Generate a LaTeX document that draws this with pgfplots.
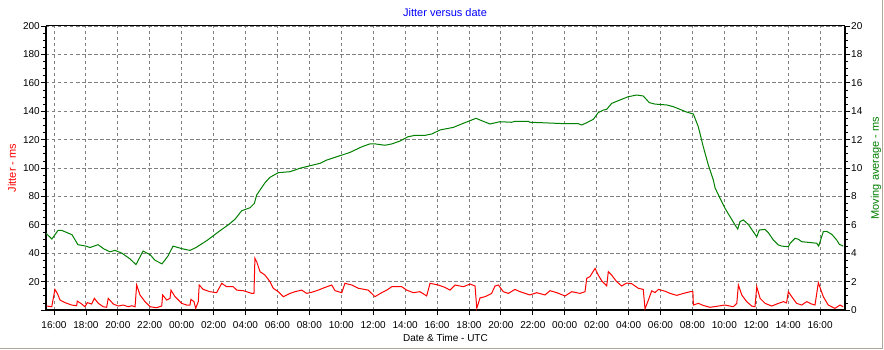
\documentclass[border=0pt]{standalone}
\usepackage{fontspec}
\setmainfont{Liberation Sans}
\usepackage{pgfplots}
\pgfplotsset{compat=1.18}
\definecolor{framegray}{RGB}{172,168,153}
\definecolor{gridgray}{RGB}{128,128,128}
\definecolor{avggreen}{RGB}{0,128,0}
\definecolor{titleblue}{RGB}{0,0,255}
\pgfplotsset{
  commonaxis/.style={
    at={(46pt,39pt)}, anchor=south west, scale only axis,
    width=799pt, height=284pt,
    xmin=-0.5, xmax=49.56,
    /pgf/number format/assume math mode=true,
    tick label style={font=\fontsize{10}{12}\selectfont},
    major tick length=5pt, minor tick length=3pt,
    tick align=outside,
    tick style={black, line width=0.8pt},
    axis line style={line width=2.6pt, black},
    minor y tick num=3,
  }
}
\begin{document}
\begin{tikzpicture}
\fill[white] (0,0) rectangle (884pt,349pt);
\path[use as bounding box] (0,0) rectangle (884pt,349pt);
\begin{axis}[commonaxis,
  ymin=0, ymax=200,
  axis x line*=bottom, axis y line*=left,
  xtick={0,2,...,48},
  xticklabels={16:00,18:00,20:00,22:00,00:00,02:00,04:00,06:00,08:00,10:00,12:00,14:00,16:00,18:00,20:00,22:00,00:00,02:00,04:00,06:00,08:00,10:00,12:00,14:00,16:00},
  ytick={0,20,...,200},
  yticklabels={,20,40,60,80,100,120,140,160,180,200},
  yticklabel style={inner sep=1pt},
  xticklabel style={yshift=-3pt},
  grid=major,
  major grid style={gridgray, line width=0.9pt, dash pattern=on 3.5pt off 2.5pt},
  ylabel={Jitter - ms},
  every axis y label/.style={at={(rel axis cs:0,0.5)}, xshift=-34pt, rotate=90, anchor=center, text=red, font=\fontsize{11}{13}\selectfont},
  xlabel={Date \& Time - UTC},
  every axis x label/.style={at={(rel axis cs:0.5,0)}, yshift=-28pt, anchor=center, font=\fontsize{10}{12}\selectfont},
]
\addplot[red, line width=1pt] coordinates {
(-0.46,2.8) (-0.14,2.3) (0.06,14.5) (0.21,11.7) (0.38,7) (0.69,5.2) (1.11,3.5) (1.42,3.0)
(1.46,6.3) (1.74,4.2) (1.94,2.3) (2.09,5.2) (2.36,4.2) (2.53,8.2) (2.78,4.7) (3.09,2.3)
(3.30,1.9) (3.40,8.2) (3.72,4.2) (4.03,2.8) (4.34,3.5) (4.66,2.3) (4.87,3.0) (5.08,2.3)
(5.18,17.6) (5.39,10.6) (5.70,5.9) (6.02,2.3) (6.43,1.6) (6.75,2.8) (6.81,10.6) (7.06,7)
(7.27,8.2) (7.33,14) (7.58,9.4) (8.00,4.7) (8.31,3.5) (8.52,3.5) (8.58,7.5) (8.77,5.9)
(8.88,1.2) (9.04,5.9) (9.10,17.6) (9.35,14.5) (9.77,12.9) (10.19,12.2) (10.51,18.8) (10.82,16.4)
(11.23,16.4) (11.45,14) (11.86,13.6) (12.07,12.9) (12.39,11.7) (12.53,11.7) (12.59,36.4) (12.70,34)
(12.91,27) (13.22,24.6) (13.53,20) (13.74,15.3) (14.05,12.9) (14.37,9.4) (14.79,11.7) (15.10,12.9)
(15.52,14) (15.83,11.7) (16.15,12.5) (16.56,14) (16.98,15.9) (17.40,17.6) (17.61,13.6) (18.03,12.2)
(18.23,18.8) (18.65,17.6) (19.07,15.3) (19.69,14) (20.11,9.4) (20.53,12.2) (20.85,14) (21.16,16.4)
(21.79,16.4) (22.10,14) (22.51,12.2) (22.93,12.9) (23.35,9.9) (23.56,18.8) (24.08,17.6) (24.50,15.9)
(24.81,14) (25.13,17.6) (25.65,16.4) (26.07,18.3) (26.38,16.9) (26.49,1.2) (26.59,4.7) (26.69,8.5)
(27.01,9.4) (27.42,11.7) (27.63,16.9) (27.84,17.6) (28.15,12.9) (28.47,11.7) (28.88,14.5) (29.20,12.9)
(29.82,10.6) (30.24,12.2) (30.76,10.6) (31.08,13.6) (31.50,12.2) (32.02,9.9) (32.44,12.9) (32.96,11.7)
(33.27,12.9) (33.38,22.3) (33.58,23.5) (33.90,29.3) (34.10,24.6) (34.32,20.5) (34.63,17) (34.73,27)
(34.94,24.6) (35.25,20) (35.57,16.9) (35.88,19) (36.20,18.5) (36.61,15.3) (36.92,14.5) (37.03,0.8)
(37.24,7) (37.45,13.5) (37.66,12.3) (37.87,14.5) (38.29,13.2) (38.60,11.7) (39.02,10.3) (39.44,11.7)
(39.86,12.9) (40.03,12.9) (40.06,3.5) (40.37,4.7) (40.68,3.2) (41.10,1.9) (41.52,2.6) (42.04,3.5)
(42.56,2.3) (42.78,4.7) (42.88,17.6) (43.09,10.6) (43.40,5.9) (43.71,2.8) (43.92,2.3) (44.03,16.4)
(44.24,8.2) (44.55,4.7) (44.97,2.8) (45.28,4.2) (45.70,5.9) (45.90,5) (46.01,12.9) (46.22,9.4)
(46.53,4.7) (46.85,3.5) (47.16,5.9) (47.47,4.2) (47.68,3.5) (47.89,19.2) (48.20,9.4) (48.51,3.5)
(48.93,1.2) (49.25,3.5) (49.45,2.3)
};
\end{axis}
\begin{axis}[commonaxis,
  ymin=0, ymax=20,
  axis x line=none, axis y line*=right,
  ytick={0,2,...,20},
  yticklabel style={inner sep=1pt},
  ylabel={Moving average - ms},
  every axis y label/.style={at={(rel axis cs:1,0.5)}, xshift=31pt, rotate=90, anchor=center, text=avggreen, font=\fontsize{11}{13}\selectfont},
]
\addplot[avggreen, line width=1pt] coordinates {
(-0.50,5.4) (-0.13,5.0) (0.25,5.6) (0.50,5.6) (1.13,5.3) (1.50,4.6) (2.00,4.5) (2.26,4.4)
(2.76,4.6) (3.13,4.3) (3.51,4.1) (3.82,4.2) (4.26,4.0) (4.76,3.6) (5.14,3.2) (5.58,4.15)
(6.02,3.9) (6.33,3.5) (6.77,3.25) (7.14,3.8) (7.46,4.5) (8.08,4.3) (8.52,4.2) (8.90,4.4)
(9.59,4.9) (10.40,5.58) (10.92,6.0) (11.34,6.39) (11.76,6.99) (12.28,7.2) (12.55,7.5) (12.70,8.1)
(12.91,8.45) (13.22,8.96) (13.53,9.34) (14.05,9.67) (14.79,9.74) (15.41,9.98) (16.04,10.16) (16.67,10.33)
(17.09,10.56) (18.55,11.1) (19.30,11.5) (19.80,11.7) (20.11,11.7) (20.74,11.6) (21.18,11.7) (21.68,11.9)
(22.18,12.2) (22.62,12.3) (23.25,12.3) (23.68,12.4) (24.19,12.68) (25.02,12.86) (25.65,13.15) (26.44,13.5)
(26.80,13.33) (27.32,13.1) (27.94,13.26) (28.68,13.22) (28.88,13.29) (29.72,13.29) (29.82,13.22) (30.56,13.19)
(32.02,13.12) (32.85,13.12) (33.06,13.03) (33.38,13.19) (33.79,13.43) (34.10,13.9) (34.42,14.08) (34.63,14.13)
(34.94,14.55) (35.46,14.79) (35.98,15.02) (36.51,15.14) (36.92,15.07) (37.30,14.6) (37.66,14.5) (38.39,14.44)
(38.80,14.32) (39.22,14.13) (39.64,13.94) (40.06,13.8) (40.37,12.9) (40.68,11.5) (41.00,10.2) (41.31,9.15)
(41.42,8.6) (41.73,7.87) (42.04,7.16) (42.36,6.57) (42.67,5.99) (42.84,5.7) (42.98,6.22) (43.19,6.34)
(43.50,6.03) (43.81,5.52) (44.03,5.16) (44.19,5.63) (44.55,5.68) (44.76,5.44) (45.07,4.93) (45.38,4.58)
(45.59,4.5) (46.01,4.46) (46.12,4.7) (46.43,5.05) (46.64,4.98) (46.85,4.81) (47.47,4.74) (47.79,4.7)
(47.91,4.5) (48.20,5.52) (48.41,5.54) (48.73,5.33) (49.04,4.93) (49.20,4.63) (49.45,4.5)
};
\end{axis}
\draw[black, line width=1pt] (46pt,323pt) -- (845pt,323pt);
\node[text=titleblue, font=\fontsize{11}{13}\selectfont, anchor=center] at (445pt,336pt) {Jitter versus date};
\draw[framegray, line width=1.5pt] (0,0.75pt) -- (882.25pt,0.75pt) -- (882.25pt,349pt);
\end{tikzpicture}
\end{document}
